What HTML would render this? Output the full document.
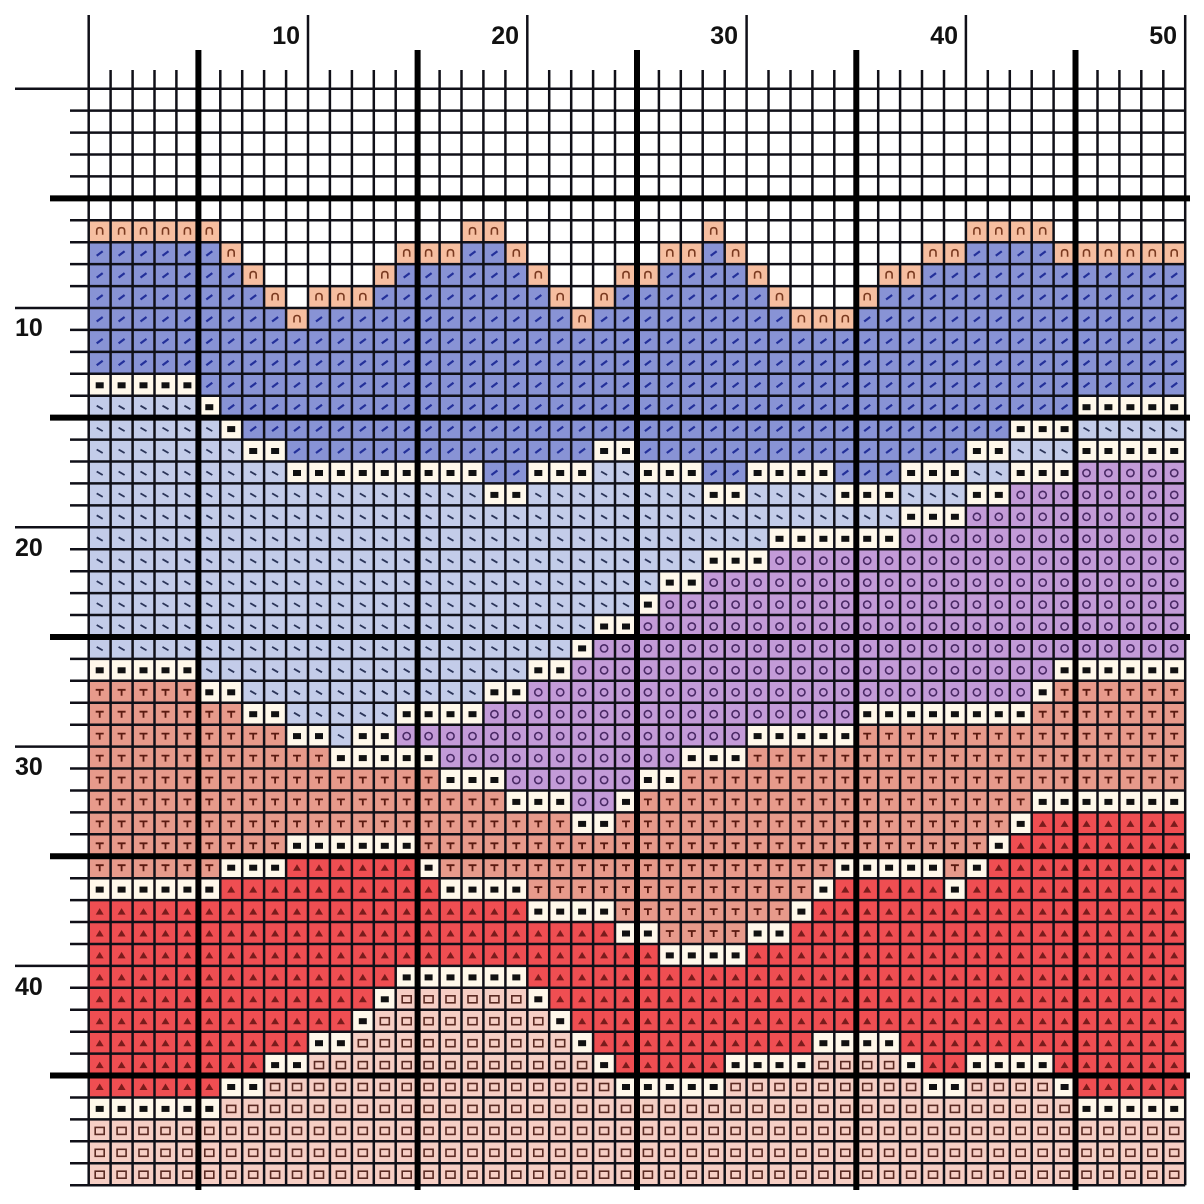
<!DOCTYPE html>
<html><head><meta charset="utf-8"><style>
html,body{margin:0;padding:0;background:#fff;width:1204px;height:1204px;overflow:hidden}
svg{display:block}
</style></head><body>
<svg id="s" width="1204" height="1204" viewBox="0 0 1204 1204" xmlns="http://www.w3.org/2000/svg">
<rect x="0" y="0" width="1204" height="1204" fill="#fff"/>
<g id="cells"></g>
<g id="sym"></g>
<g id="grid"></g>
<g font-family="'Liberation Sans', Arial, sans-serif" font-weight="bold" font-size="25" fill="#111">
<text x="300" y="44" text-anchor="end">10</text>
<text x="519" y="44" text-anchor="end">20</text>
<text x="738" y="44" text-anchor="end">30</text>
<text x="958" y="44" text-anchor="end">40</text>
<text x="1177" y="44" text-anchor="end">50</text>
<text x="15" y="336">10</text>
<text x="15" y="556">20</text>
<text x="15" y="775">30</text>
<text x="15" y="995">40</text>
</g>
</svg>
<script>
(function(){
var X0=88.7,Y0=88.7,C=21.93;
var rle=[
".50",".50",".50",".50",".50",".50",
"n6 .11 n2 .9 n1 .11 n4 .6",
"b6 n1 .7 n3 b2 n1 .6 n2 b1 n1 .8 n2 b4 n6",
"b7 n1 .5 n1 b6 n1 .3 n2 b4 n1 .5 n2 b12",
"b8 n1 .1 n3 b8 n1 .1 n1 b7 n1 .3 n1 b14",
"b9 n1 b12 n1 b9 n3 b15",
"b50","b50",
"w5 b45",
"l5 w1 b39 w5",
"l6 w1 b35 w3 l5",
"l7 w2 b14 w2 b15 w2 l3 w5",
"l9 w9 b2 w3 l2 w3 b2 w4 b3 w3 l2 w3 p5",
"l18 w2 l8 w2 l4 w3 l3 w2 p8",
"l37 w3 p10",
"l31 w6 p13",
"l28 w3 p19",
"l26 w2 p22",
"l25 w1 p24",
"l23 w2 p25",
"l22 w1 p27",
"w5 l15 w2 p22 w6",
"s5 w2 l11 w2 p23 w1 s6",
"s7 w2 l5 w4 p17 w8 s7",
"s9 w2 l1 w2 p16 w5 s15",
"s11 w5 p11 w3 s20",
"s16 w3 p6 w2 s23",
"s19 w3 p2 w1 s18 w7",
"s22 w2 s18 w1 r7",
"s9 w6 s26 w1 r8",
"s6 w3 r6 w1 s18 w5 s1 w1 r9",
"w6 r10 w4 s13 w1 r5 w1 r10",
"r20 w4 s8 w1 r17",
"r24 w2 s4 w2 r18",
"r26 w4 r20",
"r14 w6 r30",
"r13 w1 k6 w1 r29",
"r12 w1 k8 w1 r28",
"r10 w2 k10 w1 r10 w4 r13",
"r8 w2 k13 w1 r5 w4 k4 w1 r2 w4 r6",
"r6 w2 k16 w5 k9 w2 k4 w1 r5",
"w6 k39 w5",
"k50","k50","k50"
];
var col={'.':'#ffffff',n:'#f6bea0',b:'#8893d5',w:'#fff8ea',l:'#c3cce9',p:'#c39bd8',s:'#e79a8b',r:'#ef4e52',k:'#f6cec4'};
var cells='',sym='';
function f(v){return v.toFixed(1);}
for(var r=0;r<rle.length;r++){
  var parts=rle[r].split(' '),row='';
  for(var i=0;i<parts.length;i++){var ch=parts[i][0],n=parseInt(parts[i].slice(1));for(var j=0;j<n;j++)row+=ch;}
  for(var c=0;c<50;c++){
    var t=row[c]||'.';
    var x=X0+c*C,y=Y0+r*C,cx=x+C/2,cy=y+C/2;
    if(t!=='.')cells+='<rect x="'+f(x)+'" y="'+f(y)+'" width="'+f(C+0.4)+'" height="'+f(C+0.4)+'" fill="'+col[t]+'"/>';
    if(t==='w')sym+='<rect x="'+f(cx-4)+'" y="'+f(cy-2.5)+'" width="8" height="6" fill="#111"/>';
    else if(t==='k')sym+='<rect x="'+f(cx-4.5)+'" y="'+f(cy-3)+'" width="9" height="7" fill="none" stroke="#5a2a22" stroke-width="1.6"/>';
    else if(t==='p')sym+='<circle cx="'+f(cx)+'" cy="'+f(cy+0.5)+'" r="3.6" fill="none" stroke="#4a2a66" stroke-width="1.6"/>';
    else if(t==='s')sym+='<path d="M'+f(cx-4)+' '+f(cy-2)+'h8M'+f(cx)+' '+f(cy-2)+'v6" stroke="#5a1a10" stroke-width="1.8" fill="none"/>';
    else if(t==='r')sym+='<path d="M'+f(cx-4)+' '+f(cy+3.5)+'L'+f(cx)+' '+f(cy-3)+'L'+f(cx+4)+' '+f(cy+3.5)+'Z" fill="#7a1c1c"/>';
    else if(t==='b')sym+='<path d="M'+f(cx-3)+' '+f(cy+2.5)+'L'+f(cx+3)+' '+f(cy-2)+'" stroke="#23309a" stroke-width="2.2"/>';
    else if(t==='l')sym+='<path d="M'+f(cx-3)+' '+f(cy-1)+'L'+f(cx+3)+' '+f(cy+2.5)+'" stroke="#2a3458" stroke-width="1.8"/>';
    else if(t==='n')sym+='<path d="M'+f(cx-3)+' '+f(cy+3.5)+'V'+f(cy-0.5)+'Q'+f(cx-3)+' '+f(cy-3.5)+' '+f(cx)+' '+f(cy-3.5)+'Q'+f(cx+3)+' '+f(cy-3.5)+' '+f(cx+3)+' '+f(cy-0.5)+'V'+f(cy+3.5)+'" stroke="#7a3a20" stroke-width="1.6" fill="none"/>';
  }
}
var g='',thick='';
var END=X0+50*C;
for(var i=0;i<=50;i++){
  var p=X0+i*C;
  if(i%10===5){
    thick+='<line x1="'+f(p)+'" y1="50" x2="'+f(p)+'" y2="1190" stroke="#000" stroke-width="6"/>';
    thick+='<line x1="50" y1="'+f(p)+'" x2="1190" y2="'+f(p)+'" stroke="#000" stroke-width="6"/>';
  } else {
    var st=(i%10===0)?15:70;
    g+='<line x1="'+f(p)+'" y1="'+st+'" x2="'+f(p)+'" y2="'+f(END)+'" stroke="#101018" stroke-width="2.5"/>';
    var sh=(i%10===0&&i<50)?15:70;
    g+='<line x1="'+sh+'" y1="'+f(p)+'" x2="'+f(END)+'" y2="'+f(p)+'" stroke="#101018" stroke-width="2.5"/>';
  }
}
document.getElementById('cells').innerHTML=cells;
document.getElementById('sym').innerHTML=sym;
document.getElementById('grid').innerHTML=g+thick;
})();
</script>
</body></html>
